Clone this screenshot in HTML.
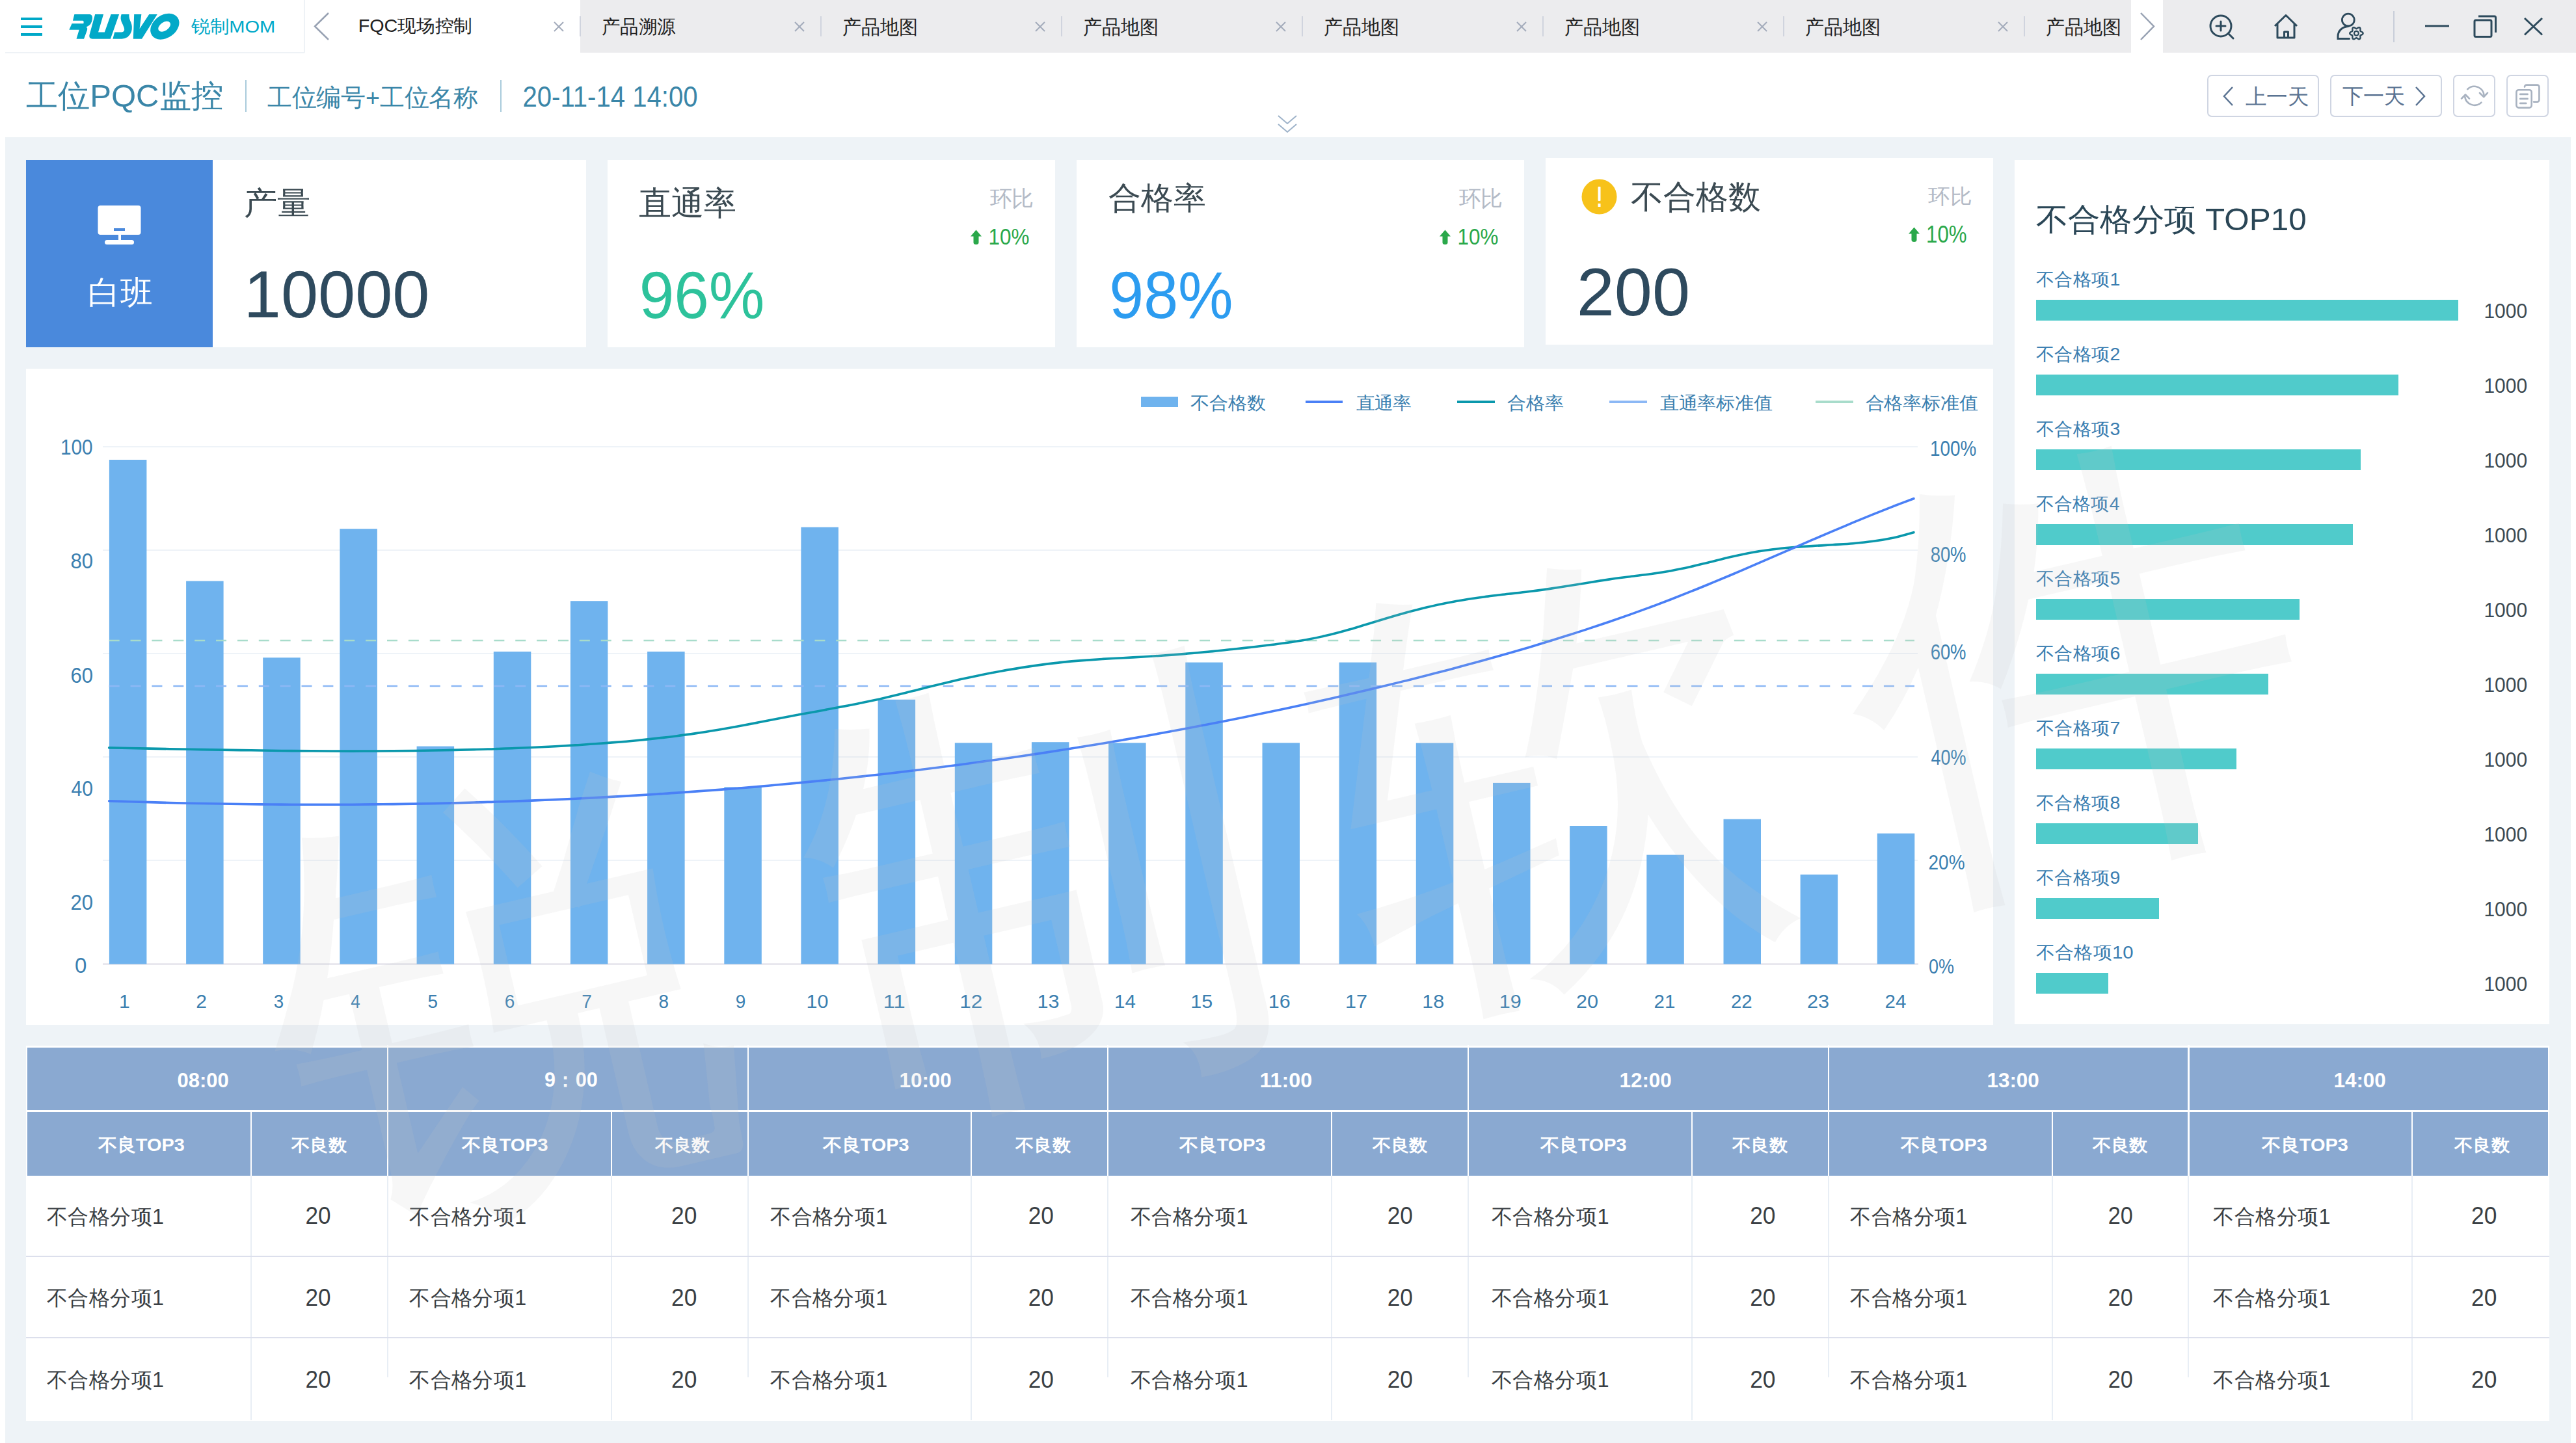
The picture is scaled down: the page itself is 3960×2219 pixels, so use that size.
<!DOCTYPE html>
<html><head><meta charset="utf-8"><title>PQC</title><style>
*{margin:0;padding:0;box-sizing:border-box}
html,body{width:3960px;height:2219px;overflow:hidden;background:#fff}
body{position:relative;font-family:"Liberation Sans",sans-serif;color:#333}
.a{position:absolute}
.t{position:absolute;white-space:nowrap;line-height:1}
</style></head><body>

<div class="a" style="left:892px;top:0px;width:2384px;height:81px;background:#ececee;"></div>
<div class="a" style="left:3325px;top:0px;width:635px;height:81px;background:#ececee;"></div>
<div class="a" style="left:8px;top:80px;width:460px;height:2px;background:#eef2f6;"></div>
<div class="a" style="left:467px;top:0px;width:2px;height:81px;background:#eef2f6;"></div>
<div class="a" style="left:32px;top:27px;width:33px;height:4px;background:#00a8c8;"></div>
<div class="a" style="left:32px;top:39px;width:33px;height:4px;background:#00a8c8;"></div>
<div class="a" style="left:32px;top:51px;width:33px;height:4px;background:#00a8c8;"></div>
<svg class="a" style="left:100px;top:15px" width="180" height="50" viewBox="0 0 2576 716"><g fill="#02a9c8"><path d="M205,100 L540,100 Q610,105 600,200 Q590,330 470,380 Q500,410 485,450 L415,640 L250,640 L310,440 L90,440 L150,305 L405,305 Q420,240 385,240 L170,240 Z"/><path d="M660,100 L845,100 L730,495 L870,495 L1010,100 L1190,100 L1000,640 L600,640 Q520,640 535,560 Z"/><path d="M1240,100 L1410,100 Q1400,180 1450,280 Q1490,380 1460,480 Q1410,630 1250,640 L1050,640 L1090,495 L1250,495 Q1320,480 1300,400 Q1280,340 1240,260 Q1210,180 1240,100 Z"/><path d="M1520,100 L1680,100 L1640,420 L1850,100 L2030,100 L1690,640 L1500,640 Z"/><ellipse cx="2195" cy="368" rx="345" ry="252" transform="rotate(-35 2195 368)"/><ellipse cx="2185" cy="368" rx="150" ry="93" transform="rotate(-35 2185 368)" fill="#fff"/></g></svg>
<div class="t" id="t1" style="left:294px;top:25px;font-size:28px;color:#00a8c8;transform-origin:0.00px 0.00px;transform:translate(0.00px,3.00px) scale(1.0385,0.9481);">锐制MOM</div>
<svg class="a" style="left:478px;top:16px" width="34" height="50"><polyline points="27,4 6,24.5 27,45" fill="none" stroke="#98a2b3" stroke-width="2.5"/></svg>
<div class="t" id="t2" style="left:552px;top:26px;font-size:28px;color:#222;transform-origin:2.00px 0.00px;transform:translate(-1.20px,1.00px) scale(1.0251,0.9643);">FQC现场控制</div>
<svg class="a" style="left:850px;top:32px" width="18" height="18"><path d="M2,2 L16,16 M16,2 L2,16" stroke="#a3abbb" stroke-width="2" fill="none"/></svg>
<div class="a" style="left:891px;top:25px;width:2px;height:31px;background:#d0d4de;"></div>
<div class="t" id="t3" style="left:926px;top:26px;font-size:28px;color:#222;transform-origin:1.00px 0.00px;transform:translate(-0.90px,1.10px) scale(1.0126,1.0333);">产品溯源</div>
<svg class="a" style="left:1220px;top:32px" width="18" height="18"><path d="M2,2 L16,16 M16,2 L2,16" stroke="#a3abbb" stroke-width="2" fill="none"/></svg>
<div class="a" style="left:1261px;top:25px;width:2px;height:31px;background:#d0d4de;"></div>
<div class="t" id="t4" style="left:1296px;top:26px;font-size:28px;color:#222;transform-origin:1.00px 0.00px;transform:translate(-0.90px,1.10px) scale(1.0407,1.0731);">产品地图</div>
<svg class="a" style="left:1590px;top:32px" width="18" height="18"><path d="M2,2 L16,16 M16,2 L2,16" stroke="#a3abbb" stroke-width="2" fill="none"/></svg>
<div class="a" style="left:1631px;top:25px;width:2px;height:31px;background:#d0d4de;"></div>
<div class="t" id="t5" style="left:1666px;top:26px;font-size:28px;color:#222;transform-origin:1.00px 0.00px;transform:translate(-0.90px,1.10px) scale(1.0407,1.0731);">产品地图</div>
<svg class="a" style="left:1960px;top:32px" width="18" height="18"><path d="M2,2 L16,16 M16,2 L2,16" stroke="#a3abbb" stroke-width="2" fill="none"/></svg>
<div class="a" style="left:2001px;top:25px;width:2px;height:31px;background:#d0d4de;"></div>
<div class="t" id="t6" style="left:2036px;top:26px;font-size:28px;color:#222;transform-origin:1.00px 0.00px;transform:translate(-0.90px,1.10px) scale(1.0407,1.0731);">产品地图</div>
<svg class="a" style="left:2330px;top:32px" width="18" height="18"><path d="M2,2 L16,16 M16,2 L2,16" stroke="#a3abbb" stroke-width="2" fill="none"/></svg>
<div class="a" style="left:2371px;top:25px;width:2px;height:31px;background:#d0d4de;"></div>
<div class="t" id="t7" style="left:2406px;top:26px;font-size:28px;color:#222;transform-origin:1.00px 0.00px;transform:translate(-0.90px,1.10px) scale(1.0407,1.0731);">产品地图</div>
<svg class="a" style="left:2700px;top:32px" width="18" height="18"><path d="M2,2 L16,16 M16,2 L2,16" stroke="#a3abbb" stroke-width="2" fill="none"/></svg>
<div class="a" style="left:2741px;top:25px;width:2px;height:31px;background:#d0d4de;"></div>
<div class="t" id="t8" style="left:2776px;top:26px;font-size:28px;color:#222;transform-origin:1.00px 0.00px;transform:translate(-0.90px,1.10px) scale(1.0407,1.0731);">产品地图</div>
<svg class="a" style="left:3070px;top:32px" width="18" height="18"><path d="M2,2 L16,16 M16,2 L2,16" stroke="#a3abbb" stroke-width="2" fill="none"/></svg>
<div class="a" style="left:3111px;top:25px;width:2px;height:31px;background:#d0d4de;"></div>
<div class="t" id="t9" style="left:3146px;top:26px;font-size:28px;color:#222;transform-origin:1.00px 0.00px;transform:translate(-0.90px,1.10px) scale(1.0407,1.0731);">产品地图</div>
<svg class="a" style="left:3284px;top:16px" width="34" height="50"><polyline points="7,4 27,24.5 7,45" fill="none" stroke="#98a2b3" stroke-width="2.5"/></svg>
<svg class="a" style="left:3380px;top:10px" width="560" height="62" viewBox="3380 10 560 62">
<circle cx="3414" cy="40" r="16" fill="none" stroke="#2d4a5c" stroke-width="3"/>
<path d="M3407,40 H3421 M3414,33 V47 M3426,52 L3433,59" stroke="#2d4a5c" stroke-width="3" fill="none" stroke-linecap="round"/>
<path d="M3497,40 L3514,23.5 L3531,40 M3501,37 V58 H3527 V37 M3511.5,58 V49 H3517.5 V58" stroke="#2d4a5c" stroke-width="3" fill="none" stroke-linejoin="round"/>
<circle cx="3609.8" cy="30.6" r="9.4" fill="none" stroke="#2d4a5c" stroke-width="2.8"/>
<path d="M3611.5,59.6 H3594 V56 C3594,47 3601,41 3610,40.5" stroke="#2d4a5c" stroke-width="3" fill="none" stroke-linecap="round"/>
<path d="M3632.60,51.20 L3632.35,52.07 L3631.66,52.83 L3630.71,53.43 L3629.73,53.87 L3628.94,54.25 L3628.46,54.70 L3628.31,55.34 L3628.38,56.21 L3628.48,57.28 L3628.44,58.40 L3628.13,59.38 L3627.50,60.03 L3626.62,60.25 L3625.61,60.03 L3624.63,59.51 L3623.75,58.88 L3623.03,58.39 L3622.40,58.20 L3621.77,58.39 L3621.05,58.88 L3620.17,59.51 L3619.19,60.03 L3618.18,60.25 L3617.30,60.03 L3616.67,59.38 L3616.36,58.40 L3616.32,57.28 L3616.42,56.21 L3616.49,55.34 L3616.34,54.70 L3615.86,54.25 L3615.07,53.87 L3614.09,53.43 L3613.14,52.83 L3612.45,52.07 L3612.20,51.20 L3612.45,50.33 L3613.14,49.57 L3614.09,48.97 L3615.07,48.53 L3615.86,48.15 L3616.34,47.70 L3616.49,47.06 L3616.42,46.19 L3616.32,45.12 L3616.36,44.00 L3616.67,43.02 L3617.30,42.37 L3618.18,42.15 L3619.19,42.37 L3620.17,42.89 L3621.05,43.52 L3621.77,44.01 L3622.40,44.20 L3623.03,44.01 L3623.75,43.52 L3624.63,42.89 L3625.61,42.37 L3626.62,42.15 L3627.50,42.37 L3628.13,43.02 L3628.44,44.00 L3628.48,45.12 L3628.38,46.19 L3628.31,47.06 L3628.46,47.70 L3628.94,48.15 L3629.73,48.53 L3630.71,48.97 L3631.66,49.57 L3632.35,50.33 L3632.60,51.20Z" fill="none" stroke="#2d4a5c" stroke-width="2.4"/>
<circle cx="3622.4" cy="51.2" r="3.4" fill="none" stroke="#2d4a5c" stroke-width="2.2"/>
<rect x="3679" y="17" width="2" height="48" fill="#c8cdd9"/>
<path d="M3728,40 H3765" stroke="#2d4a5c" stroke-width="3"/>
<rect x="3804" y="31" width="26" height="25.5" rx="2" fill="none" stroke="#2d4a5c" stroke-width="3"/>
<path d="M3810,25 H3834.5 a2,2 0 0 1 2,2 V50" stroke="#2d4a5c" stroke-width="3" fill="none"/>
<path d="M3881,28 L3908,53.5 M3908,28 L3881,53.5" stroke="#2d4a5c" stroke-width="3"/>
</svg>
<div class="t" id="t10" style="left:40px;top:121px;font-size:50px;color:#3a86a8;transform-origin:1.00px 1.00px;transform:translate(0.00px,2.00px) scale(0.9816,0.9740);">工位PQC监控</div>
<div class="a" style="left:377px;top:123px;width:2px;height:49px;background:#a9cbdb;"></div>
<div class="t" id="t11" style="left:411px;top:131px;font-size:38px;color:#3a86a8;transform-origin:1.00px 1.00px;transform:translate(0.00px,0.00px) scale(0.9929,0.9917);">工位编号+工位名称</div>
<div class="a" style="left:769px;top:123px;width:2px;height:49px;background:#a9cbdb;"></div>
<div class="t" id="t12" style="left:805px;top:129px;font-size:39px;color:#3a86a8;transform-origin:2.00px 6.00px;transform:translate(-1.50px,-2.60px) scale(1.0283,1.1519);">20-11-14 14:00</div>
<svg class="a" style="left:1962px;top:174px" width="34" height="34"><path d="M3,4 L17,16 L31,4 M3,17 L17,29 L31,17" stroke="#9db2c9" stroke-width="2" fill="none"/></svg>
<div class="a" style="left:3393px;top:115px;width:172px;height:65px;border:2px solid #cfd5e2;border-radius:7px"></div>
<div class="a" style="left:3582px;top:115px;width:172px;height:65px;border:2px solid #cfd5e2;border-radius:7px"></div>
<div class="a" style="left:3771px;top:115px;width:65px;height:65px;border:2px solid #cfd5e2;border-radius:7px"></div>
<div class="a" style="left:3853px;top:115px;width:65px;height:65px;border:2px solid #cfd5e2;border-radius:7px"></div>
<svg class="a" style="left:3410px;top:130px" width="30" height="36"><polyline points="22,4 9,18 22,32" fill="none" stroke="#5a7392" stroke-width="2.5"/></svg>
<div class="t" id="t13" style="left:3451px;top:131px;font-size:32px;color:#5a7392;transform-origin:1.00px 1.00px;transform:translate(0.80px,1.70px) scale(1.0129,1.0276);">上一天</div>
<div class="t" id="t14" style="left:3599px;top:131px;font-size:32px;color:#5a7392;transform-origin:0.00px 2.00px;transform:translate(1.70px,0.70px) scale(1.0011,1.0276);">下一天</div>
<svg class="a" style="left:3705px;top:130px" width="30" height="36"><polyline points="9,4 22,18 9,32" fill="none" stroke="#5a7392" stroke-width="2.5"/></svg>
<svg class="a" style="left:3771px;top:115px" width="147" height="65" viewBox="3771 115 147 65">
<g stroke="#a8b2c0" stroke-width="2.6" fill="none" stroke-linecap="round" stroke-linejoin="round">
<path d="M3793.2,137.2 A15,15 0 0 1 3818.6,146.5"/>
<path d="M3812,143 L3818.2,149 L3824,142.8"/>
<path d="M3814.4,157.6 A15,15 0 0 1 3789.2,148.8"/>
<path d="M3784,151.6 L3790,145.5 L3796,151.6"/>
<rect x="3868.4" y="138.2" width="23.3" height="27.4" rx="3.5"/>
<path d="M3874.2,144.9 H3885.6 M3874.2,151.9 H3885.6 M3874.2,158.9 H3883.3"/>
<path d="M3881,133.5 V133.6 a3,3 0 0 1 3,-3 H3900.4 a3,3 0 0 1 3,3 V153.6 a3,3 0 0 1 -3,3 H3895"/>
</g>
</svg>
<div class="a" style="left:8px;top:211px;width:3944px;height:2008px;background:#eef3f7;"></div>
<div class="a" style="left:40px;top:246px;width:287px;height:288px;background:#4a89dc;"></div>
<div class="a" style="left:327px;top:246px;width:574px;height:288px;background:#fff;"></div>
<div class="a" style="left:934px;top:246px;width:688px;height:288px;background:#fff;"></div>
<div class="a" style="left:1655px;top:246px;width:688px;height:288px;background:#fff;"></div>
<div class="a" style="left:2376px;top:243px;width:688px;height:287px;background:#fff;"></div>
<svg class="a" style="left:150px;top:316px" width="67" height="61"><rect x="0.5" y="0" width="66" height="45" rx="4" fill="#fff"/><rect x="25" y="35" width="17" height="4" fill="#4a89dc"/><rect x="32" y="44" width="4" height="10" fill="#fff"/><rect x="11" y="53" width="45" height="7" rx="3.5" fill="#fff"/></svg>
<div class="t" id="t15" style="left:138px;top:420px;font-size:50px;color:#fff;transform-origin:3.00px 1.00px;transform:translate(-3.00px,4.80px) scale(0.9979,1.0043);">白班</div>
<div class="t" id="t16" style="left:377px;top:283px;font-size:50px;color:#3b4a52;transform-origin:2.00px 0.00px;transform:translate(-1.60px,5.40px) scale(1.0135,0.9708);">产量</div>
<div class="t" id="t17" style="left:380px;top:400px;font-size:100px;color:#2e4a5e;transform-origin:8.00px 15.00px;transform:translate(-5.00px,1.50px) scale(1.0271,1.0282);">10000</div>
<div class="t" id="t18" style="left:983px;top:283px;font-size:50px;color:#3b4a52;transform-origin:1.00px 0.00px;transform:translate(-1.00px,4.50px) scale(1.0041,1.0229);">直通率</div>
<div class="t" id="t19" style="left:1520px;top:290px;font-size:32px;color:#b3bac6;transform-origin:0.00px 1.00px;transform:translate(1.50px,-1.10px) scale(1.0516,1.0533);">环比</div>
<div class="t" id="t20" style="left:1521px;top:347px;font-size:32px;color:#2aa84a;transform-origin:2.00px 5.00px;transform:translate(-1.50px,-0.30px) scale(0.9820,1.1227);">10%</div>
<svg class="a" style="left:1492px;top:352.8px" width="18" height="24"><path d="M8.5,0.5 L17,10.5 H12.5 V20 A4,3 0 0 1 4.5,20 V10.5 H0 Z" fill="#2aa84a"/></svg>
<div class="t" id="t21" style="left:985px;top:400px;font-size:100px;color:#2dc29b;transform-origin:5.00px 15.00px;transform:translate(-2.50px,2.00px) scale(0.9630,1.0282);">96%</div>
<div class="t" id="t22" style="left:1705px;top:278px;font-size:50px;color:#3b4a52;transform-origin:1.00px 0.00px;transform:translate(-1.00px,3.00px) scale(1.0000,0.9592);">合格率</div>
<div class="t" id="t23" style="left:2242px;top:290px;font-size:32px;color:#b3bac6;transform-origin:0.00px 1.00px;transform:translate(0.50px,-1.10px) scale(1.0516,1.0533);">环比</div>
<div class="t" id="t24" style="left:2242px;top:347px;font-size:32px;color:#2aa84a;transform-origin:2.00px 5.00px;transform:translate(-1.50px,-0.30px) scale(0.9820,1.1227);">10%</div>
<svg class="a" style="left:2213px;top:352.8px" width="18" height="24"><path d="M8.5,0.5 L17,10.5 H12.5 V20 A4,3 0 0 1 4.5,20 V10.5 H0 Z" fill="#2aa84a"/></svg>
<div class="t" id="t25" style="left:1708px;top:400px;font-size:100px;color:#2c9cf0;transform-origin:5.00px 15.00px;transform:translate(-3.00px,2.00px) scale(0.9516,1.0282);">98%</div>
<svg class="a" style="left:2431px;top:275px" width="55" height="55"><circle cx="27.5" cy="27.5" r="27" fill="#f7c21a"/><rect x="25.5" y="12" width="4" height="22" rx="1" fill="#fff"/><rect x="25.5" y="38" width="4" height="5" fill="#fff"/></svg>
<div class="t" id="t26" style="left:2507px;top:275px;font-size:50px;color:#3b4a52;transform-origin:1.00px 1.00px;transform:translate(0.00px,3.00px) scale(0.9975,1.0000);">不合格数</div>
<div class="t" id="t27" style="left:2963px;top:285px;font-size:32px;color:#b3bac6;transform-origin:0.00px 1.00px;transform:translate(1.00px,1.50px) scale(1.0484,0.9967);">环比</div>
<div class="t" id="t28" style="left:2963px;top:343px;font-size:32px;color:#2aa84a;transform-origin:2.00px 5.00px;transform:translate(-2.00px,-1.00px) scale(0.9770,1.1818);">10%</div>
<svg class="a" style="left:2934px;top:349px" width="18" height="24"><path d="M8.5,0.5 L17,10.5 H12.5 V20 A4,3 0 0 1 4.5,20 V10.5 H0 Z" fill="#2aa84a"/></svg>
<div class="t" id="t29" style="left:2427px;top:396px;font-size:100px;color:#2e4a5e;transform-origin:5.00px 15.00px;transform:translate(-3.00px,1.00px) scale(1.0443,1.0423);">200</div>
<div class="a" style="left:40px;top:567px;width:3024px;height:1009px;background:#fff;"></div>
<div class="a" style="left:3097px;top:246px;width:822px;height:1329px;background:#fff;"></div>
<svg class="a" style="left:0;top:0" width="3960" height="2219" viewBox="0 0 3960 2219">
<rect x="158" y="686" width="2790" height="2" fill="#eef3f8"/>
<rect x="158" y="845" width="2790" height="2" fill="#eef3f8"/>
<rect x="158" y="1004" width="2790" height="2" fill="#eef3f8"/>
<rect x="158" y="1163" width="2790" height="2" fill="#eef3f8"/>
<rect x="158" y="1322" width="2790" height="2" fill="#eef3f8"/>
<rect x="158" y="1481.5" width="2791" height="2" fill="#dcdbe6"/>
<rect x="167.9" y="707" width="57.5" height="775.5" fill="#6fb3ee"/>
<rect x="286.1" y="893.5" width="57.5" height="589.0" fill="#6fb3ee"/>
<rect x="404.2" y="1011.3" width="57.5" height="471.2" fill="#6fb3ee"/>
<rect x="522.4" y="813.2" width="57.5" height="669.3" fill="#6fb3ee"/>
<rect x="640.6" y="1147.6" width="57.5" height="334.9" fill="#6fb3ee"/>
<rect x="758.8" y="1002" width="57.5" height="480.5" fill="#6fb3ee"/>
<rect x="876.9" y="924.2" width="57.5" height="558.3" fill="#6fb3ee"/>
<rect x="995.1" y="1002" width="57.5" height="480.5" fill="#6fb3ee"/>
<rect x="1113.3" y="1210.3" width="57.5" height="272.2" fill="#6fb3ee"/>
<rect x="1231.4" y="810.7" width="57.5" height="671.8" fill="#6fb3ee"/>
<rect x="1349.6" y="1075.8" width="57.5" height="406.7" fill="#6fb3ee"/>
<rect x="1467.8" y="1142.4" width="57.5" height="340.1" fill="#6fb3ee"/>
<rect x="1585.9" y="1141.2" width="57.5" height="341.3" fill="#6fb3ee"/>
<rect x="1704.1" y="1142.4" width="57.5" height="340.1" fill="#6fb3ee"/>
<rect x="1822.3" y="1018.6" width="57.5" height="463.9" fill="#6fb3ee"/>
<rect x="1940.5" y="1142.4" width="57.5" height="340.1" fill="#6fb3ee"/>
<rect x="2058.6" y="1018.6" width="57.5" height="463.9" fill="#6fb3ee"/>
<rect x="2176.8" y="1142.6" width="57.5" height="339.9" fill="#6fb3ee"/>
<rect x="2295.0" y="1203.9" width="57.5" height="278.6" fill="#6fb3ee"/>
<rect x="2413.1" y="1270" width="57.5" height="212.5" fill="#6fb3ee"/>
<rect x="2531.3" y="1314.6" width="57.5" height="167.9" fill="#6fb3ee"/>
<rect x="2649.5" y="1259.6" width="57.5" height="222.9" fill="#6fb3ee"/>
<rect x="2767.6" y="1344.8" width="57.5" height="137.7" fill="#6fb3ee"/>
<rect x="2885.8" y="1281.6" width="57.5" height="200.9" fill="#6fb3ee"/>
<path d="M167.7,985 H2943" stroke="#a8dccb" stroke-width="2.5" stroke-dasharray="16 16.87"/>
<path d="M167.7,1055 H2943" stroke="#8cb8f5" stroke-width="2.5" stroke-dasharray="16 16.87"/>
<path d="M167.7,1149.9 C172.9,1150.0 188.5,1150.3 198.9,1150.5 C209.3,1150.7 219.7,1150.9 230.0,1151.1 C240.4,1151.3 250.8,1151.5 261.2,1151.7 C271.6,1151.9 282.0,1152.1 292.4,1152.3 C302.8,1152.5 313.2,1152.7 323.6,1152.9 C333.9,1153.0 344.3,1153.2 354.7,1153.4 C365.1,1153.5 375.5,1153.7 385.9,1153.8 C396.3,1154.0 406.7,1154.1 417.1,1154.2 C427.5,1154.4 437.8,1154.5 448.2,1154.6 C458.6,1154.7 469.0,1154.8 479.4,1154.8 C489.8,1154.9 500.2,1155.0 510.6,1155.0 C521.0,1155.0 531.4,1155.1 541.7,1155.1 C552.1,1155.1 562.5,1155.0 572.9,1155.0 C583.3,1155.0 593.7,1154.9 604.1,1154.8 C614.5,1154.7 624.9,1154.6 635.3,1154.5 C645.7,1154.4 656.0,1154.2 666.4,1154.0 C676.8,1153.9 687.2,1153.7 697.6,1153.4 C708.0,1153.2 718.4,1152.9 728.8,1152.6 C739.2,1152.4 749.6,1152.0 759.9,1151.7 C770.3,1151.3 780.7,1151.0 791.1,1150.5 C801.5,1150.1 811.9,1149.7 822.3,1149.2 C832.7,1148.7 843.1,1148.2 853.5,1147.7 C863.8,1147.1 874.2,1146.5 884.6,1145.9 C895.0,1145.2 905.4,1144.6 915.8,1143.8 C926.2,1143.1 936.6,1142.3 947.0,1141.4 C957.4,1140.6 967.8,1139.7 978.1,1138.7 C988.5,1137.7 998.9,1136.6 1009.3,1135.4 C1019.7,1134.3 1030.1,1133.0 1040.5,1131.7 C1050.9,1130.4 1061.3,1128.9 1071.7,1127.4 C1082.0,1125.9 1092.4,1124.2 1102.8,1122.5 C1113.2,1120.8 1123.6,1118.9 1134.0,1117.0 C1144.4,1115.1 1154.8,1113.1 1165.2,1111.1 C1175.6,1109.1 1185.9,1107.1 1196.3,1105.1 C1206.7,1103.1 1217.1,1101.1 1227.5,1099.1 C1237.9,1097.2 1248.3,1095.3 1258.7,1093.4 C1269.1,1091.5 1279.5,1089.6 1289.8,1087.6 C1300.2,1085.6 1310.6,1083.7 1321.0,1081.5 C1331.4,1079.4 1341.8,1077.2 1352.2,1074.9 C1362.6,1072.5 1373.0,1070.0 1383.4,1067.5 C1393.8,1065.0 1404.1,1062.3 1414.5,1059.7 C1424.9,1057.2 1435.3,1054.5 1445.7,1052.0 C1456.1,1049.5 1466.5,1047.0 1476.9,1044.6 C1487.3,1042.3 1497.7,1040.0 1508.0,1037.9 C1518.4,1035.8 1528.8,1033.7 1539.2,1031.9 C1549.6,1030.0 1560.0,1028.2 1570.4,1026.6 C1580.8,1025.0 1591.2,1023.5 1601.6,1022.1 C1611.9,1020.8 1622.3,1019.5 1632.7,1018.4 C1643.1,1017.3 1653.5,1016.4 1663.9,1015.6 C1674.3,1014.8 1684.7,1014.1 1695.1,1013.4 C1705.5,1012.8 1715.8,1012.3 1726.2,1011.7 C1736.6,1011.1 1747.0,1010.6 1757.4,1010.0 C1767.8,1009.4 1778.2,1008.7 1788.6,1008.0 C1799.0,1007.3 1809.4,1006.5 1819.8,1005.6 C1830.1,1004.8 1840.5,1003.8 1850.9,1002.8 C1861.3,1001.9 1871.7,1000.8 1882.1,999.7 C1892.5,998.7 1902.9,997.5 1913.3,996.4 C1923.7,995.2 1934.0,994.0 1944.4,992.7 C1954.8,991.4 1965.2,990.2 1975.6,988.7 C1986.0,987.2 1996.4,985.7 2006.8,983.9 C2017.2,982.0 2027.6,980.0 2037.9,977.6 C2048.3,975.2 2058.7,972.4 2069.1,969.5 C2079.5,966.7 2089.9,963.4 2100.3,960.3 C2110.7,957.2 2121.1,953.9 2131.5,950.8 C2141.8,947.7 2152.2,944.7 2162.6,941.8 C2173.0,939.0 2183.4,936.3 2193.8,933.8 C2204.2,931.4 2214.6,929.1 2225.0,927.0 C2235.4,925.0 2245.8,923.2 2256.1,921.5 C2266.5,919.8 2276.9,918.5 2287.3,917.1 C2297.7,915.7 2308.1,914.6 2318.5,913.3 C2328.9,912.1 2339.3,911.0 2349.7,909.7 C2360.0,908.4 2370.4,907.1 2380.8,905.6 C2391.2,904.1 2401.6,902.5 2412.0,900.8 C2422.4,899.2 2432.8,897.4 2443.2,895.7 C2453.6,894.0 2463.9,892.4 2474.3,890.9 C2484.7,889.4 2495.1,888.1 2505.5,886.7 C2515.9,885.3 2526.3,884.2 2536.7,882.7 C2547.1,881.2 2557.5,879.8 2567.9,877.9 C2578.2,876.0 2588.6,873.8 2599.0,871.5 C2609.4,869.2 2619.8,866.4 2630.2,863.9 C2640.6,861.3 2651.0,858.6 2661.4,856.2 C2671.8,853.8 2682.1,851.5 2692.5,849.7 C2702.9,847.8 2713.3,846.3 2723.7,845.0 C2734.1,843.7 2744.5,842.7 2754.9,841.8 C2765.3,840.9 2775.7,840.2 2786.0,839.6 C2796.4,838.9 2806.8,838.4 2817.2,837.8 C2827.6,837.1 2838.0,836.6 2848.4,835.7 C2858.8,834.8 2869.2,833.8 2879.6,832.3 C2889.9,830.9 2900.3,829.2 2910.7,827.0 C2921.1,824.7 2936.7,820.1 2941.9,818.7" stroke="#0a98ac" stroke-width="3.6" fill="none" stroke-linecap="round"/>
<path d="M167.7,1231.7 C172.9,1231.9 188.5,1232.4 198.9,1232.7 C209.3,1233.0 219.7,1233.3 230.0,1233.6 C240.4,1233.9 250.8,1234.2 261.2,1234.5 C271.6,1234.7 282.0,1234.9 292.4,1235.2 C302.8,1235.4 313.2,1235.6 323.6,1235.8 C333.9,1236.0 344.3,1236.2 354.7,1236.3 C365.1,1236.5 375.5,1236.6 385.9,1236.7 C396.3,1236.8 406.7,1236.9 417.1,1237.0 C427.5,1237.1 437.8,1237.2 448.2,1237.2 C458.6,1237.3 469.0,1237.3 479.4,1237.3 C489.8,1237.3 500.2,1237.3 510.6,1237.3 C521.0,1237.3 531.4,1237.2 541.7,1237.2 C552.1,1237.1 562.5,1237.0 572.9,1236.9 C583.3,1236.8 593.7,1236.7 604.1,1236.6 C614.5,1236.5 624.9,1236.3 635.3,1236.1 C645.7,1236.0 656.0,1235.8 666.4,1235.6 C676.8,1235.3 687.2,1235.1 697.6,1234.9 C708.0,1234.6 718.4,1234.3 728.8,1234.0 C739.2,1233.8 749.6,1233.4 759.9,1233.1 C770.3,1232.8 780.7,1232.4 791.1,1232.1 C801.5,1231.7 811.9,1231.3 822.3,1230.9 C832.7,1230.5 843.1,1230.0 853.5,1229.6 C863.8,1229.1 874.2,1228.7 884.6,1228.2 C895.0,1227.7 905.4,1227.2 915.8,1226.6 C926.2,1226.1 936.6,1225.5 947.0,1224.9 C957.4,1224.4 967.8,1223.8 978.1,1223.1 C988.5,1222.5 998.9,1221.9 1009.3,1221.2 C1019.7,1220.5 1030.1,1219.9 1040.5,1219.1 C1050.9,1218.4 1061.3,1217.7 1071.7,1216.9 C1082.0,1216.2 1092.4,1215.4 1102.8,1214.6 C1113.2,1213.8 1123.6,1213.0 1134.0,1212.2 C1144.4,1211.3 1154.8,1210.4 1165.2,1209.6 C1175.6,1208.7 1185.9,1207.7 1196.3,1206.8 C1206.7,1205.9 1217.1,1204.9 1227.5,1203.9 C1237.9,1202.9 1248.3,1201.9 1258.7,1200.9 C1269.1,1199.9 1279.5,1198.8 1289.8,1197.8 C1300.2,1196.7 1310.6,1195.6 1321.0,1194.4 C1331.4,1193.3 1341.8,1192.2 1352.2,1191.0 C1362.6,1189.8 1373.0,1188.6 1383.4,1187.4 C1393.8,1186.2 1404.1,1184.9 1414.5,1183.7 C1424.9,1182.4 1435.3,1181.1 1445.7,1179.8 C1456.1,1178.5 1466.5,1177.1 1476.9,1175.7 C1487.3,1174.4 1497.7,1173.0 1508.0,1171.5 C1518.4,1170.1 1528.8,1168.7 1539.2,1167.2 C1549.6,1165.7 1560.0,1164.2 1570.4,1162.7 C1580.8,1161.2 1591.2,1159.6 1601.6,1158.1 C1611.9,1156.5 1622.3,1154.9 1632.7,1153.3 C1643.1,1151.6 1653.5,1150.0 1663.9,1148.3 C1674.3,1146.6 1684.7,1144.9 1695.1,1143.2 C1705.5,1141.4 1715.8,1139.7 1726.2,1137.9 C1736.6,1136.1 1747.0,1134.3 1757.4,1132.4 C1767.8,1130.6 1778.2,1128.7 1788.6,1126.8 C1799.0,1124.9 1809.4,1123.0 1819.8,1121.1 C1830.1,1119.1 1840.5,1117.1 1850.9,1115.1 C1861.3,1113.1 1871.7,1111.1 1882.1,1109.0 C1892.5,1107.0 1902.9,1104.9 1913.3,1102.7 C1923.7,1100.6 1934.0,1098.5 1944.4,1096.3 C1954.8,1094.1 1965.2,1091.9 1975.6,1089.7 C1986.0,1087.5 1996.4,1085.2 2006.8,1082.9 C2017.2,1080.6 2027.6,1078.3 2037.9,1076.0 C2048.3,1073.6 2058.7,1071.2 2069.1,1068.8 C2079.5,1066.4 2089.9,1064.0 2100.3,1061.5 C2110.7,1059.0 2121.1,1056.6 2131.5,1054.0 C2141.8,1051.5 2152.2,1048.9 2162.6,1046.4 C2173.0,1043.8 2183.4,1041.2 2193.8,1038.5 C2204.2,1035.8 2214.6,1033.2 2225.0,1030.4 C2235.4,1027.7 2245.8,1024.9 2256.1,1022.1 C2266.5,1019.3 2276.9,1016.5 2287.3,1013.6 C2297.7,1010.7 2308.1,1007.8 2318.5,1004.8 C2328.9,1001.8 2339.3,998.7 2349.7,995.7 C2360.0,992.6 2370.4,989.4 2380.8,986.3 C2391.2,983.1 2401.6,979.8 2412.0,976.5 C2422.4,973.2 2432.8,969.9 2443.2,966.4 C2453.6,963.0 2463.9,959.5 2474.3,956.0 C2484.7,952.4 2495.1,948.8 2505.5,945.1 C2515.9,941.4 2526.3,937.6 2536.7,933.8 C2547.1,929.9 2557.5,926.0 2567.9,922.0 C2578.2,918.0 2588.6,913.9 2599.0,909.7 C2609.4,905.6 2619.8,901.3 2630.2,897.0 C2640.6,892.7 2651.0,888.4 2661.4,884.0 C2671.8,879.6 2682.1,875.1 2692.5,870.7 C2702.9,866.2 2713.3,861.7 2723.7,857.2 C2734.1,852.7 2744.5,848.2 2754.9,843.7 C2765.3,839.2 2775.7,834.7 2786.0,830.2 C2796.4,825.7 2806.8,821.3 2817.2,816.9 C2827.6,812.4 2838.0,808.1 2848.4,803.7 C2858.8,799.4 2869.2,795.1 2879.6,790.9 C2889.9,786.7 2900.3,782.6 2910.7,778.5 C2921.1,774.5 2936.7,768.7 2941.9,766.7" stroke="#4a80f6" stroke-width="3.6" fill="none" stroke-linecap="round"/>
</svg>
<div class="t" id="t30" style="left:93px;top:673.7px;font-size:30px;color:#3b7fb0;transform-origin:2.00px 5.30px;transform:translate(0.00px,-1.30px) scale(0.9915,1.0850);">100</div>
<div class="t" id="t31" style="left:107.5px;top:848.5px;font-size:30px;color:#3b7fb0;transform-origin:1.50px 5.50px;transform:translate(0.50px,-1.50px) scale(1.0355,1.1000);">80</div>
<div class="t" id="t32" style="left:107.5px;top:1024px;font-size:30px;color:#3b7fb0;transform-origin:1.50px 5.00px;transform:translate(0.50px,-1.00px) scale(1.0355,1.1000);">60</div>
<div class="t" id="t33" style="left:107.5px;top:1198.5px;font-size:30px;color:#3b7fb0;transform-origin:0.50px 5.50px;transform:translate(1.50px,-1.50px) scale(1.0031,1.1000);">40</div>
<div class="t" id="t34" style="left:107.5px;top:1373px;font-size:30px;color:#3b7fb0;transform-origin:1.50px 5.00px;transform:translate(0.50px,-1.00px) scale(1.0355,1.1000);">20</div>
<div class="t" id="t35" style="left:114px;top:1470px;font-size:30px;color:#3b7fb0;transform-origin:1.00px 5.00px;transform:translate(1.00px,-1.00px) scale(1.1000,1.0800);">0</div>
<div class="t" id="t36" style="left:2966.8px;top:673.9px;font-size:30px;color:#3b7fb0;transform-origin:2.20px 5.10px;transform:translate(-0.20px,-1.10px) scale(0.9284,1.1350);">100%</div>
<div class="t" id="t37" style="left:2966.5px;top:837px;font-size:30px;color:#3b7fb0;transform-origin:1.50px 5.00px;transform:translate(0.50px,-1.00px) scale(0.9138,1.1250);">80%</div>
<div class="t" id="t38" style="left:2966.5px;top:987.5px;font-size:30px;color:#3b7fb0;transform-origin:1.50px 5.50px;transform:translate(0.50px,-1.50px) scale(0.9138,1.1250);">60%</div>
<div class="t" id="t39" style="left:2966.5px;top:1149.5px;font-size:30px;color:#3b7fb0;transform-origin:0.50px 5.50px;transform:translate(1.50px,-1.50px) scale(0.8983,1.1250);">40%</div>
<div class="t" id="t40" style="left:2964.4px;top:1311.8px;font-size:30px;color:#3b7fb0;transform-origin:1.60px 5.20px;transform:translate(0.40px,-1.20px) scale(0.9328,1.0600);">20%</div>
<div class="t" id="t41" style="left:2964px;top:1471px;font-size:30px;color:#3b7fb0;transform-origin:1.00px 5.00px;transform:translate(1.00px,-1.00px) scale(0.9000,1.0750);">0%</div>
<div class="t" id="t42" style="left:185.1px;top:1525px;font-size:29px;color:#3b7fb0;transform-origin:1.90px 4.00px;transform:translate(-1.90px,0.00px) scale(1.0385,1.0350);">1</div>
<div class="t" id="t43" style="left:303.4px;top:1525px;font-size:29px;color:#3b7fb0;transform-origin:1.60px 4.00px;transform:translate(-1.60px,0.00px) scale(1.0385,1.0350);">2</div>
<div class="t" id="t44" style="left:421.8px;top:1525px;font-size:29px;color:#3b7fb0;transform-origin:1.20px 4.00px;transform:translate(-1.20px,0.00px) scale(0.9571,1.0350);">3</div>
<div class="t" id="t45" style="left:540.1px;top:1525px;font-size:29px;color:#3b7fb0;transform-origin:0.90px 4.00px;transform:translate(-0.90px,0.00px) scale(0.9000,1.0350);">4</div>
<div class="t" id="t46" style="left:658.5px;top:1525px;font-size:29px;color:#3b7fb0;transform-origin:1.50px 4.00px;transform:translate(-1.50px,0.00px) scale(0.9643,1.0350);">5</div>
<div class="t" id="t47" style="left:776.8px;top:1525px;font-size:29px;color:#3b7fb0;transform-origin:1.20px 4.00px;transform:translate(-1.20px,0.00px) scale(0.9643,1.0350);">6</div>
<div class="t" id="t48" style="left:895.1px;top:1525px;font-size:29px;color:#3b7fb0;transform-origin:0.90px 4.00px;transform:translate(-0.90px,0.00px) scale(0.9643,1.0350);">7</div>
<div class="t" id="t49" style="left:1013.5px;top:1525px;font-size:29px;color:#3b7fb0;transform-origin:1.50px 4.00px;transform:translate(-1.50px,0.00px) scale(0.9643,1.0350);">8</div>
<div class="t" id="t50" style="left:1131.8px;top:1525px;font-size:29px;color:#3b7fb0;transform-origin:1.20px 4.00px;transform:translate(-1.20px,0.00px) scale(0.9643,1.0350);">9</div>
<div class="t" id="t51" style="left:1241.7px;top:1525px;font-size:29px;color:#3b7fb0;transform-origin:2.30px 4.00px;transform:translate(-2.30px,0.00px) scale(1.0517,1.0350);">10</div>
<div class="t" id="t52" style="left:1360.0px;top:1525px;font-size:29px;color:#3b7fb0;transform-origin:2.00px 4.00px;transform:translate(-2.00px,0.00px) scale(1.1296,1.0350);">11</div>
<div class="t" id="t53" style="left:1478.4px;top:1525px;font-size:29px;color:#3b7fb0;transform-origin:2.60px 4.00px;transform:translate(-2.60px,0.00px) scale(1.0893,1.0350);">12</div>
<div class="t" id="t54" style="left:1596.7px;top:1525px;font-size:29px;color:#3b7fb0;transform-origin:2.30px 4.00px;transform:translate(-2.30px,0.00px) scale(1.0517,1.0350);">13</div>
<div class="t" id="t55" style="left:1715.1px;top:1525px;font-size:29px;color:#3b7fb0;transform-origin:1.90px 4.00px;transform:translate(-1.90px,0.00px) scale(1.0167,1.0350);">14</div>
<div class="t" id="t56" style="left:1833.4px;top:1525px;font-size:29px;color:#3b7fb0;transform-origin:2.60px 4.00px;transform:translate(-2.60px,0.00px) scale(1.0517,1.0350);">15</div>
<div class="t" id="t57" style="left:1951.8px;top:1525px;font-size:29px;color:#3b7fb0;transform-origin:2.20px 4.00px;transform:translate(-2.20px,0.00px) scale(1.0517,1.0350);">16</div>
<div class="t" id="t58" style="left:2070.2px;top:1525px;font-size:29px;color:#3b7fb0;transform-origin:1.80px 4.00px;transform:translate(-1.80px,0.00px) scale(1.0517,1.0350);">17</div>
<div class="t" id="t59" style="left:2188.5px;top:1525px;font-size:29px;color:#3b7fb0;transform-origin:2.50px 4.00px;transform:translate(-2.50px,0.00px) scale(1.0517,1.0350);">18</div>
<div class="t" id="t60" style="left:2306.8px;top:1525px;font-size:29px;color:#3b7fb0;transform-origin:2.20px 4.00px;transform:translate(-2.20px,0.00px) scale(1.0517,1.0350);">19</div>
<div class="t" id="t61" style="left:2425.2px;top:1525px;font-size:29px;color:#3b7fb0;transform-origin:1.80px 4.00px;transform:translate(-1.80px,0.00px) scale(1.0517,1.0350);">20</div>
<div class="t" id="t62" style="left:2543.6px;top:1525px;font-size:29px;color:#3b7fb0;transform-origin:1.40px 4.00px;transform:translate(-1.40px,0.00px) scale(1.0167,1.0350);">21</div>
<div class="t" id="t63" style="left:2661.9px;top:1525px;font-size:29px;color:#3b7fb0;transform-origin:1.10px 4.00px;transform:translate(-1.10px,0.00px) scale(1.0167,1.0350);">22</div>
<div class="t" id="t64" style="left:2780.2px;top:1525px;font-size:29px;color:#3b7fb0;transform-origin:1.80px 4.00px;transform:translate(-1.80px,0.00px) scale(1.0552,1.0350);">23</div>
<div class="t" id="t65" style="left:2898.6px;top:1525px;font-size:29px;color:#3b7fb0;transform-origin:1.40px 4.00px;transform:translate(-1.40px,0.00px) scale(1.0167,1.0350);">24</div>
<div class="a" style="left:1754px;top:610px;width:57px;height:16px;background:#6fb3ee;"></div>
<div class="t" id="t66" style="left:1831px;top:604px;font-size:29px;color:#3b7fb0;transform-origin:1.00px 0.00px;transform:translate(-1.00px,2.40px) scale(0.9965,0.9214);">不合格数</div>
<div class="a" style="left:2007px;top:616px;width:57px;height:4px;background:#4a80f6;"></div>
<div class="t" id="t67" style="left:2084px;top:604px;font-size:29px;color:#3b7fb0;transform-origin:0.00px 0.00px;transform:translate(0.50px,2.40px) scale(0.9826,0.9214);">直通率</div>
<div class="a" style="left:2240px;top:616px;width:58px;height:4px;background:#0a98ac;"></div>
<div class="t" id="t68" style="left:2318px;top:604px;font-size:29px;color:#3b7fb0;transform-origin:1.00px 0.00px;transform:translate(-1.00px,2.40px) scale(0.9941,0.9214);">合格率</div>
<div class="a" style="left:2474px;top:616px;width:58px;height:4px;background:#8cb8f5;"></div>
<div class="t" id="t69" style="left:2552px;top:604px;font-size:29px;color:#3b7fb0;transform-origin:0.00px 0.00px;transform:translate(0.00px,2.40px) scale(0.9908,0.9214);">直通率标准值</div>
<div class="a" style="left:2791px;top:616px;width:58px;height:4px;background:#a8dccb;"></div>
<div class="t" id="t70" style="left:2868px;top:604px;font-size:29px;color:#3b7fb0;transform-origin:1.00px 0.00px;transform:translate(-0.50px,2.40px) scale(0.9953,0.9214);">合格率标准值</div>
<div class="t" id="t71" style="left:3130px;top:312px;font-size:48px;color:#2a4656;transform-origin:1.00px 1.00px;transform:translate(-0.40px,2.40px) scale(1.0284,1.0022);">不合格分项 TOP10</div>
<div class="t" id="t72" style="left:3130px;top:414.6px;font-size:29px;color:#3a7db0;transform-origin:1.00px 0.40px;transform:translate(-0.40px,1.20px) scale(0.9823,0.9429);">不合格项1</div>
<div class="a" style="left:3130px;top:460.6px;width:649.3px;height:32.4px;background:#50cbcb;"></div>
<div class="t" id="t73" style="left:3820px;top:462.6px;font-size:29px;color:#3d4a52;transform-origin:2.00px 4.40px;transform:translate(-1.50px,0.40px) scale(1.0323,1.0600);">1000</div>
<div class="t" id="t74" style="left:3130px;top:529.6px;font-size:29px;color:#3a7db0;transform-origin:1.00px 0.40px;transform:translate(-0.40px,1.20px) scale(0.9823,0.9429);">不合格项2</div>
<div class="a" style="left:3130px;top:575.6px;width:556.8px;height:32.4px;background:#50cbcb;"></div>
<div class="t" id="t75" style="left:3820px;top:577.6px;font-size:29px;color:#3d4a52;transform-origin:2.00px 4.40px;transform:translate(-1.50px,0.40px) scale(1.0323,1.0600);">1000</div>
<div class="t" id="t76" style="left:3130px;top:644.7px;font-size:29px;color:#3a7db0;transform-origin:1.00px 0.30px;transform:translate(-0.40px,1.30px) scale(0.9823,0.9429);">不合格项3</div>
<div class="a" style="left:3130px;top:690.7px;width:499px;height:32.4px;background:#50cbcb;"></div>
<div class="t" id="t77" style="left:3820px;top:692.7px;font-size:29px;color:#3d4a52;transform-origin:2.00px 4.30px;transform:translate(-1.50px,0.50px) scale(1.0323,1.0600);">1000</div>
<div class="t" id="t78" style="left:3130px;top:759.8px;font-size:29px;color:#3a7db0;transform-origin:1.00px 0.20px;transform:translate(-0.40px,1.40px) scale(0.9748,0.9429);">不合格项4</div>
<div class="a" style="left:3130px;top:805.8px;width:486.6px;height:32.4px;background:#50cbcb;"></div>
<div class="t" id="t79" style="left:3820px;top:807.8px;font-size:29px;color:#3d4a52;transform-origin:2.00px 4.20px;transform:translate(-1.50px,0.50px) scale(1.0323,1.0650);">1000</div>
<div class="t" id="t80" style="left:3130px;top:874.8px;font-size:29px;color:#3a7db0;transform-origin:1.00px 0.20px;transform:translate(-0.40px,1.40px) scale(0.9823,0.9429);">不合格项5</div>
<div class="a" style="left:3130px;top:920.8px;width:404.5px;height:32.4px;background:#50cbcb;"></div>
<div class="t" id="t81" style="left:3820px;top:922.8px;font-size:29px;color:#3d4a52;transform-origin:2.00px 4.20px;transform:translate(-1.50px,0.60px) scale(1.0323,1.0600);">1000</div>
<div class="t" id="t82" style="left:3130px;top:989.8px;font-size:29px;color:#3a7db0;transform-origin:1.00px 0.20px;transform:translate(-0.40px,1.40px) scale(0.9823,0.9429);">不合格项6</div>
<div class="a" style="left:3130px;top:1035.8px;width:357.2px;height:32.4px;background:#50cbcb;"></div>
<div class="t" id="t83" style="left:3820px;top:1037.8px;font-size:29px;color:#3d4a52;transform-origin:2.00px 4.20px;transform:translate(-1.50px,0.60px) scale(1.0323,1.0600);">1000</div>
<div class="t" id="t84" style="left:3130px;top:1104.9px;font-size:29px;color:#3a7db0;transform-origin:1.00px 0.10px;transform:translate(-0.40px,1.50px) scale(0.9823,0.9429);">不合格项7</div>
<div class="a" style="left:3130px;top:1150.9px;width:308px;height:32.4px;background:#50cbcb;"></div>
<div class="t" id="t85" style="left:3820px;top:1152.9px;font-size:29px;color:#3d4a52;transform-origin:2.00px 4.10px;transform:translate(-1.50px,0.70px) scale(1.0323,1.0600);">1000</div>
<div class="t" id="t86" style="left:3130px;top:1220.0px;font-size:29px;color:#3a7db0;transform-origin:1.00px 0.00px;transform:translate(-0.40px,1.50px) scale(0.9823,0.9464);">不合格项8</div>
<div class="a" style="left:3130px;top:1266.0px;width:248.7px;height:32.4px;background:#50cbcb;"></div>
<div class="t" id="t87" style="left:3820px;top:1268.0px;font-size:29px;color:#3d4a52;transform-origin:2.00px 4.00px;transform:translate(-1.50px,0.80px) scale(1.0323,1.0600);">1000</div>
<div class="t" id="t88" style="left:3130px;top:1335.0px;font-size:29px;color:#3a7db0;transform-origin:1.00px 0.00px;transform:translate(-0.40px,1.60px) scale(0.9823,0.9429);">不合格项9</div>
<div class="a" style="left:3130px;top:1381.0px;width:189px;height:32.4px;background:#50cbcb;"></div>
<div class="t" id="t89" style="left:3820px;top:1383.0px;font-size:29px;color:#3d4a52;transform-origin:2.00px 4.00px;transform:translate(-1.50px,0.80px) scale(1.0323,1.0600);">1000</div>
<div class="t" id="t90" style="left:3130px;top:1450.1px;font-size:29px;color:#3a7db0;transform-origin:1.00px -0.10px;transform:translate(-0.40px,1.70px) scale(1.0123,0.9429);">不合格项10</div>
<div class="a" style="left:3130px;top:1496.1px;width:111px;height:32.4px;background:#50cbcb;"></div>
<div class="t" id="t91" style="left:3820px;top:1498.1px;font-size:29px;color:#3d4a52;transform-origin:2.00px 3.90px;transform:translate(-1.50px,0.90px) scale(1.0323,1.0600);">1000</div>
<div class="a" style="left:40px;top:1607.5px;width:3879px;height:577px;background:#fff;"></div>
<div class="a" style="left:42px;top:1611px;width:3875px;height:96px;background:#8aa9d1;"></div>
<div class="a" style="left:42px;top:1710px;width:3875px;height:98px;background:#8aa9d1;"></div>
<div class="a" style="left:384.8px;top:1808px;width:2px;height:376px;background:#e8eef5;"></div>
<div class="a" style="left:384.8px;top:1707px;width:2.2px;height:101px;background:#fff;"></div>
<div class="t" id="t92" style="left:272px;top:1645px;font-size:31px;color:#fff;font-weight:bold;transform-origin:1.00px 4.00px;transform:translate(0.50px,0.40px) scale(1.0000,1.0273);">08:00</div>
<div class="t" id="t93" style="left:150.8px;top:1745px;font-size:29px;color:#fff;font-weight:bold;transform-origin:0.20px -1.00px;transform:translate(0.00px,3.20px) scale(0.9970,0.9241);">不良TOP3</div>
<div class="t" id="t94" style="left:447.4px;top:1745px;font-size:29px;color:#fff;font-weight:bold;transform-origin:-0.40px -1.00px;transform:translate(0.90px,3.20px) scale(0.9770,0.8933);">不良数</div>
<div class="t" id="t95" style="left:73px;top:1852.0px;font-size:33px;color:#3a3f44;transform-origin:1.00px 1.00px;transform:translate(-1.00px,2.20px) scale(0.9818,0.9812);">不合格分项1</div>
<div class="t" id="t96" style="left:470.7px;top:1852.0px;font-size:33px;color:#3a3f44;transform-origin:1.30px 5.00px;transform:translate(-1.40px,-0.30px) scale(1.0647,1.1130);">20</div>
<div class="t" id="t97" style="left:73px;top:1977.6px;font-size:33px;color:#3a3f44;transform-origin:1.00px 1.40px;transform:translate(-1.00px,1.80px) scale(0.9818,0.9813);">不合格分项1</div>
<div class="t" id="t98" style="left:470.7px;top:1977.6px;font-size:33px;color:#3a3f44;transform-origin:1.30px 5.40px;transform:translate(-1.40px,-0.70px) scale(1.0647,1.1130);">20</div>
<div class="t" id="t99" style="left:73px;top:2103.2px;font-size:33px;color:#3a3f44;transform-origin:1.00px 0.80px;transform:translate(-1.00px,2.40px) scale(0.9818,0.9813);">不合格分项1</div>
<div class="t" id="t100" style="left:470.7px;top:2103.2px;font-size:33px;color:#3a3f44;transform-origin:1.30px 4.80px;transform:translate(-1.40px,-0.10px) scale(1.0647,1.1130);">20</div>
<div class="a" style="left:594.7px;top:1808px;width:2px;height:310px;background:#e8eef5;"></div>
<div class="a" style="left:594.7px;top:1607px;width:2.2px;height:201px;background:#fff;"></div>
<div class="a" style="left:938.5px;top:1808px;width:2px;height:376px;background:#e8eef5;"></div>
<div class="a" style="left:938.5px;top:1707px;width:2.2px;height:101px;background:#fff;"></div>
<div class="t" id="t101" style="left:838px;top:1645px;font-size:31px;color:#fff;font-weight:bold;transform-origin:1.00px 4.00px;transform:translate(-1.00px,0.40px) scale(0.9877,0.9826);">9：00</div>
<div class="t" id="t102" style="left:709.6px;top:1745px;font-size:29px;color:#fff;font-weight:bold;transform-origin:0.40px -1.00px;transform:translate(-0.20px,3.20px) scale(0.9970,0.9241);">不良TOP3</div>
<div class="t" id="t103" style="left:1006.2px;top:1745px;font-size:29px;color:#fff;font-weight:bold;transform-origin:-0.20px -1.00px;transform:translate(0.70px,3.20px) scale(0.9770,0.8933);">不良数</div>
<div class="t" id="t104" style="left:630.2px;top:1852.0px;font-size:33px;color:#3a3f44;transform-origin:0.80px 1.00px;transform:translate(-0.80px,2.20px) scale(0.9818,0.9812);">不合格分项1</div>
<div class="t" id="t105" style="left:1034.3px;top:1852.0px;font-size:33px;color:#3a3f44;transform-origin:1.70px 5.00px;transform:translate(-1.90px,-0.30px) scale(1.0706,1.1130);">20</div>
<div class="t" id="t106" style="left:630.2px;top:1977.6px;font-size:33px;color:#3a3f44;transform-origin:0.80px 1.40px;transform:translate(-0.80px,1.80px) scale(0.9818,0.9813);">不合格分项1</div>
<div class="t" id="t107" style="left:1034.3px;top:1977.6px;font-size:33px;color:#3a3f44;transform-origin:1.70px 5.40px;transform:translate(-1.90px,-0.70px) scale(1.0706,1.1130);">20</div>
<div class="t" id="t108" style="left:630.2px;top:2103.2px;font-size:33px;color:#3a3f44;transform-origin:0.80px 0.80px;transform:translate(-0.80px,2.40px) scale(0.9818,0.9813);">不合格分项1</div>
<div class="t" id="t109" style="left:1034.3px;top:2103.2px;font-size:33px;color:#3a3f44;transform-origin:1.70px 4.80px;transform:translate(-1.90px,-0.10px) scale(1.0706,1.1130);">20</div>
<div class="a" style="left:1148.5px;top:1808px;width:2px;height:310px;background:#e8eef5;"></div>
<div class="a" style="left:1148.5px;top:1607px;width:2.2px;height:201px;background:#fff;"></div>
<div class="a" style="left:1492.3px;top:1808px;width:2px;height:376px;background:#e8eef5;"></div>
<div class="a" style="left:1492.3px;top:1707px;width:2.2px;height:101px;background:#fff;"></div>
<div class="t" id="t110" style="left:1383px;top:1645px;font-size:31px;color:#fff;font-weight:bold;transform-origin:2.00px 4.00px;transform:translate(-0.50px,0.40px) scale(1.0132,1.0273);">10:00</div>
<div class="t" id="t111" style="left:1264.6px;top:1745px;font-size:29px;color:#fff;font-weight:bold;transform-origin:0.40px -1.00px;transform:translate(-0.20px,3.20px) scale(0.9970,0.9241);">不良TOP3</div>
<div class="t" id="t112" style="left:1560.4px;top:1745px;font-size:29px;color:#fff;font-weight:bold;transform-origin:-0.40px -1.00px;transform:translate(0.90px,3.20px) scale(0.9770,0.8933);">不良数</div>
<div class="t" id="t113" style="left:1185.2px;top:1852.0px;font-size:33px;color:#3a3f44;transform-origin:0.80px 1.00px;transform:translate(-0.80px,2.20px) scale(0.9818,0.9812);">不合格分项1</div>
<div class="t" id="t114" style="left:1583.1px;top:1852.0px;font-size:33px;color:#3a3f44;transform-origin:1.90px 5.00px;transform:translate(-2.10px,-0.30px) scale(1.0676,1.1130);">20</div>
<div class="t" id="t115" style="left:1185.2px;top:1977.6px;font-size:33px;color:#3a3f44;transform-origin:0.80px 1.40px;transform:translate(-0.80px,1.80px) scale(0.9818,0.9813);">不合格分项1</div>
<div class="t" id="t116" style="left:1583.1px;top:1977.6px;font-size:33px;color:#3a3f44;transform-origin:1.90px 5.40px;transform:translate(-2.10px,-0.70px) scale(1.0676,1.1130);">20</div>
<div class="t" id="t117" style="left:1185.2px;top:2103.2px;font-size:33px;color:#3a3f44;transform-origin:0.80px 0.80px;transform:translate(-0.80px,2.40px) scale(0.9818,0.9813);">不合格分项1</div>
<div class="t" id="t118" style="left:1583.1px;top:2103.2px;font-size:33px;color:#3a3f44;transform-origin:1.90px 4.80px;transform:translate(-2.10px,-0.10px) scale(1.0676,1.1130);">20</div>
<div class="a" style="left:1702.2px;top:1808px;width:2px;height:310px;background:#e8eef5;"></div>
<div class="a" style="left:1702.2px;top:1607px;width:2.2px;height:201px;background:#fff;"></div>
<div class="a" style="left:2046.0px;top:1808px;width:2px;height:376px;background:#e8eef5;"></div>
<div class="a" style="left:2046.0px;top:1707px;width:2.2px;height:101px;background:#fff;"></div>
<div class="t" id="t119" style="left:1937px;top:1645px;font-size:31px;color:#fff;font-weight:bold;transform-origin:2.00px 4.00px;transform:translate(-0.50px,0.40px) scale(1.0405,1.0273);">11:00</div>
<div class="t" id="t120" style="left:1812.6px;top:1745px;font-size:29px;color:#fff;font-weight:bold;transform-origin:0.40px -1.00px;transform:translate(-0.20px,3.20px) scale(0.9970,0.9241);">不良TOP3</div>
<div class="t" id="t121" style="left:2109.2px;top:1745px;font-size:29px;color:#fff;font-weight:bold;transform-origin:-0.20px -1.00px;transform:translate(0.70px,3.20px) scale(0.9770,0.8933);">不良数</div>
<div class="t" id="t122" style="left:1738.6px;top:1852.0px;font-size:33px;color:#3a3f44;transform-origin:1.40px 1.00px;transform:translate(-1.40px,2.20px) scale(0.9872,0.9812);">不合格分项1</div>
<div class="t" id="t123" style="left:2135px;top:1852.0px;font-size:33px;color:#3a3f44;transform-origin:2.00px 5.00px;transform:translate(-2.20px,-0.30px) scale(1.0706,1.1130);">20</div>
<div class="t" id="t124" style="left:1738.6px;top:1977.6px;font-size:33px;color:#3a3f44;transform-origin:1.40px 1.40px;transform:translate(-1.40px,1.80px) scale(0.9872,0.9813);">不合格分项1</div>
<div class="t" id="t125" style="left:2135px;top:1977.6px;font-size:33px;color:#3a3f44;transform-origin:2.00px 5.40px;transform:translate(-2.20px,-0.70px) scale(1.0706,1.1130);">20</div>
<div class="t" id="t126" style="left:1738.6px;top:2103.2px;font-size:33px;color:#3a3f44;transform-origin:1.40px 0.80px;transform:translate(-1.40px,2.40px) scale(0.9872,0.9813);">不合格分项1</div>
<div class="t" id="t127" style="left:2135px;top:2103.2px;font-size:33px;color:#3a3f44;transform-origin:2.00px 4.80px;transform:translate(-2.20px,-0.10px) scale(1.0706,1.1130);">20</div>
<div class="a" style="left:2256.0px;top:1808px;width:2px;height:310px;background:#e8eef5;"></div>
<div class="a" style="left:2256.0px;top:1607px;width:2.2px;height:201px;background:#fff;"></div>
<div class="a" style="left:2599.8px;top:1808px;width:2px;height:376px;background:#e8eef5;"></div>
<div class="a" style="left:2599.8px;top:1707px;width:2.2px;height:101px;background:#fff;"></div>
<div class="t" id="t128" style="left:2490px;top:1645px;font-size:31px;color:#fff;font-weight:bold;transform-origin:2.00px 4.00px;transform:translate(-0.50px,0.40px) scale(1.0132,1.0273);">12:00</div>
<div class="t" id="t129" style="left:2367.6px;top:1745px;font-size:29px;color:#fff;font-weight:bold;transform-origin:0.40px -1.00px;transform:translate(-0.20px,3.20px) scale(0.9970,0.9241);">不良TOP3</div>
<div class="t" id="t130" style="left:2662.6px;top:1745px;font-size:29px;color:#fff;font-weight:bold;transform-origin:0.40px -1.00px;transform:translate(0.10px,3.20px) scale(0.9770,0.8933);">不良数</div>
<div class="t" id="t131" style="left:2293.6px;top:1852.0px;font-size:33px;color:#3a3f44;transform-origin:1.40px 1.00px;transform:translate(-1.40px,2.20px) scale(0.9872,0.9812);">不合格分项1</div>
<div class="t" id="t132" style="left:2691.5px;top:1852.0px;font-size:33px;color:#3a3f44;transform-origin:1.50px 5.00px;transform:translate(-1.70px,-0.30px) scale(1.0706,1.1130);">20</div>
<div class="t" id="t133" style="left:2293.6px;top:1977.6px;font-size:33px;color:#3a3f44;transform-origin:1.40px 1.40px;transform:translate(-1.40px,1.80px) scale(0.9872,0.9813);">不合格分项1</div>
<div class="t" id="t134" style="left:2691.5px;top:1977.6px;font-size:33px;color:#3a3f44;transform-origin:1.50px 5.40px;transform:translate(-1.70px,-0.70px) scale(1.0706,1.1130);">20</div>
<div class="t" id="t135" style="left:2293.6px;top:2103.2px;font-size:33px;color:#3a3f44;transform-origin:1.40px 0.80px;transform:translate(-1.40px,2.40px) scale(0.9872,0.9813);">不合格分项1</div>
<div class="t" id="t136" style="left:2691.5px;top:2103.2px;font-size:33px;color:#3a3f44;transform-origin:1.50px 4.80px;transform:translate(-1.70px,-0.10px) scale(1.0706,1.1130);">20</div>
<div class="a" style="left:2809.7px;top:1808px;width:2px;height:310px;background:#e8eef5;"></div>
<div class="a" style="left:2809.7px;top:1607px;width:2.2px;height:201px;background:#fff;"></div>
<div class="a" style="left:3153.5px;top:1808px;width:2px;height:376px;background:#e8eef5;"></div>
<div class="a" style="left:3153.5px;top:1707px;width:2.2px;height:101px;background:#fff;"></div>
<div class="t" id="t137" style="left:3055px;top:1645px;font-size:31px;color:#fff;font-weight:bold;transform-origin:2.00px 4.00px;transform:translate(-0.50px,0.40px) scale(1.0132,1.0273);">13:00</div>
<div class="t" id="t138" style="left:2921.8px;top:1745px;font-size:29px;color:#fff;font-weight:bold;transform-origin:0.20px -1.00px;transform:translate(0.00px,3.20px) scale(0.9970,0.9241);">不良TOP3</div>
<div class="t" id="t139" style="left:3216px;top:1745px;font-size:29px;color:#fff;font-weight:bold;transform-origin:0.00px -1.00px;transform:translate(0.50px,3.20px) scale(0.9770,0.8933);">不良数</div>
<div class="t" id="t140" style="left:2845.3px;top:1852.0px;font-size:33px;color:#3a3f44;transform-origin:0.70px 1.00px;transform:translate(-0.70px,2.20px) scale(0.9818,0.9812);">不合格分项1</div>
<div class="t" id="t141" style="left:3241.8px;top:1852.0px;font-size:33px;color:#3a3f44;transform-origin:1.20px 5.00px;transform:translate(-1.30px,-0.30px) scale(1.0371,1.1130);">20</div>
<div class="t" id="t142" style="left:2845.3px;top:1977.6px;font-size:33px;color:#3a3f44;transform-origin:0.70px 1.40px;transform:translate(-0.70px,1.80px) scale(0.9818,0.9813);">不合格分项1</div>
<div class="t" id="t143" style="left:3241.8px;top:1977.6px;font-size:33px;color:#3a3f44;transform-origin:1.20px 5.40px;transform:translate(-1.30px,-0.70px) scale(1.0371,1.1130);">20</div>
<div class="t" id="t144" style="left:2845.3px;top:2103.2px;font-size:33px;color:#3a3f44;transform-origin:0.70px 0.80px;transform:translate(-0.70px,2.40px) scale(0.9818,0.9813);">不合格分项1</div>
<div class="t" id="t145" style="left:3241.8px;top:2103.2px;font-size:33px;color:#3a3f44;transform-origin:1.20px 4.80px;transform:translate(-1.30px,-0.10px) scale(1.0371,1.1130);">20</div>
<div class="a" style="left:3363.4px;top:1808px;width:2px;height:310px;background:#e8eef5;"></div>
<div class="a" style="left:3363.4px;top:1607px;width:2.2px;height:201px;background:#fff;"></div>
<div class="a" style="left:3707.2px;top:1808px;width:2px;height:376px;background:#e8eef5;"></div>
<div class="a" style="left:3707.2px;top:1707px;width:2.2px;height:101px;background:#fff;"></div>
<div class="t" id="t146" style="left:3588px;top:1645px;font-size:31px;color:#fff;font-weight:bold;transform-origin:2.00px 4.00px;transform:translate(-0.50px,0.40px) scale(1.0132,1.0273);">14:00</div>
<div class="t" id="t147" style="left:3476.8px;top:1745px;font-size:29px;color:#fff;font-weight:bold;transform-origin:0.20px -1.00px;transform:translate(0.00px,3.20px) scale(0.9970,0.9241);">不良TOP3</div>
<div class="t" id="t148" style="left:3772.5px;top:1745px;font-size:29px;color:#fff;font-weight:bold;transform-origin:0.50px -1.00px;transform:translate(0.00px,3.20px) scale(0.9770,0.8933);">不良数</div>
<div class="t" id="t149" style="left:3403.4px;top:1852.0px;font-size:33px;color:#3a3f44;transform-origin:0.60px 1.00px;transform:translate(-0.60px,2.20px) scale(0.9818,0.9812);">不合格分项1</div>
<div class="t" id="t150" style="left:3801.4px;top:1852.0px;font-size:33px;color:#3a3f44;transform-origin:1.60px 5.00px;transform:translate(-1.80px,-0.30px) scale(1.0706,1.1130);">20</div>
<div class="t" id="t151" style="left:3403.4px;top:1977.6px;font-size:33px;color:#3a3f44;transform-origin:0.60px 1.40px;transform:translate(-0.60px,1.80px) scale(0.9818,0.9813);">不合格分项1</div>
<div class="t" id="t152" style="left:3801.4px;top:1977.6px;font-size:33px;color:#3a3f44;transform-origin:1.60px 5.40px;transform:translate(-1.80px,-0.70px) scale(1.0706,1.1130);">20</div>
<div class="t" id="t153" style="left:3403.4px;top:2103.2px;font-size:33px;color:#3a3f44;transform-origin:0.60px 0.80px;transform:translate(-0.60px,2.40px) scale(0.9818,0.9813);">不合格分项1</div>
<div class="t" id="t154" style="left:3801.4px;top:2103.2px;font-size:33px;color:#3a3f44;transform-origin:1.60px 4.80px;transform:translate(-1.80px,-0.10px) scale(1.0706,1.1130);">20</div>
<div class="a" style="left:40px;top:1706.5px;width:3879px;height:3.5px;background:#fff;"></div>
<div class="a" style="left:40px;top:1930.5px;width:3879px;height:2px;background:#dcdfec;"></div>
<div class="a" style="left:40px;top:2056px;width:3879px;height:2px;background:#dcdfec;"></div>
<svg class="a" style="left:0;top:0;pointer-events:none" width="3960" height="2219" viewBox="0 0 3960 2219"><g font-family="Liberation Sans" font-weight="normal" font-size="700" fill="rgba(200,200,200,0.14)"><text x="765" y="1535" transform="rotate(-13.1 765 1535)" text-anchor="middle" dominant-baseline="central">锐</text><text x="1599" y="1365" transform="rotate(-13.1 1599 1365)" text-anchor="middle" dominant-baseline="central">制</text><text x="2389" y="1198" transform="rotate(-13.1 2389 1198)" text-anchor="middle" dominant-baseline="central">软</text><text x="3190" y="1022" transform="rotate(-13.1 3190 1022)" text-anchor="middle" dominant-baseline="central">件</text></g></svg>
</body></html>
